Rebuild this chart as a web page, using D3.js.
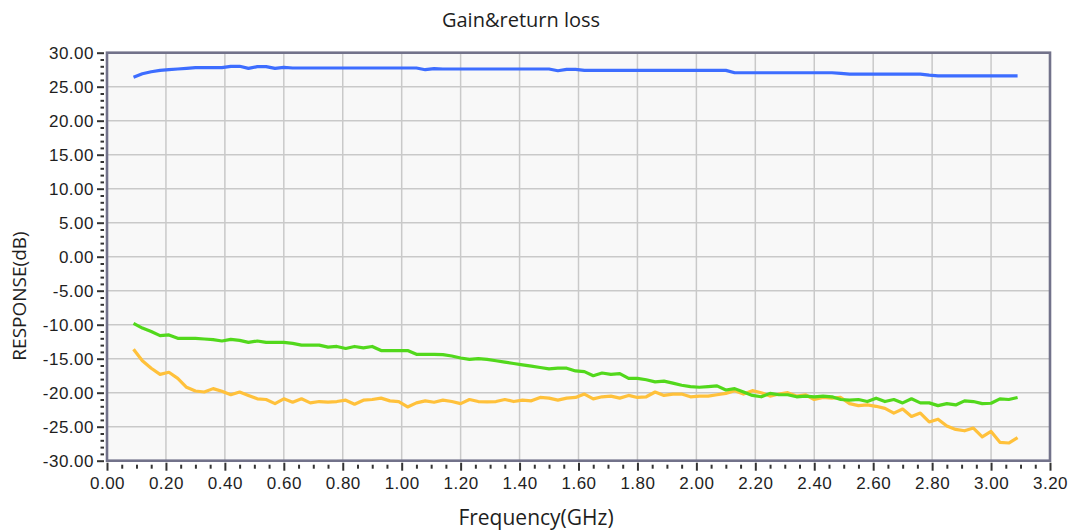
<!DOCTYPE html>
<html>
<head>
<meta charset="utf-8">
<script src="https://cdn.jsdelivr.net/npm/d3@7"></script>
<style>
  html, body { margin: 0; padding: 0; background: #fff; }
  svg { display: block; font-family: 'Open Sans', sans-serif; }
  .tick-label { font-size: 17px; fill: #1e1e1e; letter-spacing: 0.5px; }
  .axis-title { font-size: 19px; fill: #1e1e1e; }
  .x-title { font-size: 21px; }
  .title { font-size: 20px; fill: #1e1e1e; }
</style>
</head>
<body>
<svg id="chart" width="1073" height="531"></svg>
<script>
const freq = [
  0.09, 0.12, 0.15, 0.18, 0.21, 0.24, 0.27, 0.30, 0.33, 0.36,
  0.39, 0.42, 0.45, 0.48, 0.51, 0.54, 0.57, 0.60, 0.63, 0.66,
  0.69, 0.72, 0.75, 0.78, 0.81, 0.84, 0.87, 0.90, 0.93, 0.96,
  0.99, 1.02, 1.05, 1.08, 1.11, 1.14, 1.17, 1.20, 1.23, 1.26,
  1.29, 1.32, 1.35, 1.38, 1.41, 1.44, 1.47, 1.50, 1.53, 1.56,
  1.59, 1.62, 1.65, 1.68, 1.71, 1.74, 1.77, 1.80, 1.83, 1.86,
  1.89, 1.92, 1.95, 1.98, 2.01, 2.04, 2.07, 2.10, 2.13, 2.16,
  2.19, 2.22, 2.25, 2.28, 2.31, 2.34, 2.37, 2.40, 2.43, 2.46,
  2.49, 2.52, 2.55, 2.58, 2.61, 2.64, 2.67, 2.70, 2.73, 2.76,
  2.79, 2.82, 2.85, 2.88, 2.91, 2.94, 2.97, 3.00, 3.03, 3.06,
  3.09
]

// S21 gain
const gain = [
  26.4, 26.9, 27.2, 27.4, 27.5, 27.6, 27.7, 27.8, 27.8, 27.8,
  27.8, 28.0, 28.0, 27.7, 27.95, 27.95, 27.7, 27.85, 27.75, 27.75,
  27.75, 27.75, 27.75, 27.75, 27.75, 27.75, 27.75, 27.75, 27.75, 27.75,
  27.75, 27.75, 27.75, 27.5, 27.65, 27.6, 27.6, 27.6, 27.6, 27.6,
  27.6, 27.6, 27.6, 27.6, 27.6, 27.6, 27.6, 27.6, 27.35, 27.55,
  27.55, 27.4, 27.4, 27.4, 27.4, 27.4, 27.4, 27.4, 27.4, 27.4,
  27.4, 27.4, 27.4, 27.4, 27.4, 27.4, 27.4, 27.4, 27.05, 27.05,
  27.05, 27.05, 27.05, 27.05, 27.05, 27.05, 27.05, 27.05, 27.05, 27.05,
  26.95, 26.85, 26.85, 26.85, 26.85, 26.85, 26.85, 26.85, 26.85, 26.85,
  26.7, 26.6, 26.6, 26.6, 26.6, 26.6, 26.6, 26.6, 26.6, 26.6,
  26.6
]

// input return loss
const s11 = [
  -9.8, -10.5, -11.0, -11.6, -11.5, -12.0, -12.0, -12.0, -12.1, -12.2,
  -12.4, -12.15, -12.3, -12.6, -12.4, -12.6, -12.6, -12.6, -12.75, -13.0,
  -13.0, -13.0, -13.3, -13.2, -13.5, -13.2, -13.4, -13.2, -13.8, -13.8,
  -13.8, -13.8, -14.35, -14.35, -14.35, -14.4, -14.6, -14.9, -15.1, -15.0,
  -15.1, -15.3, -15.5, -15.7, -15.9, -16.1, -16.3, -16.5, -16.4, -16.4,
  -16.8, -16.9, -17.5, -17.1, -17.3, -17.2, -17.9, -17.9, -18.1, -18.4,
  -18.3, -18.6, -18.9, -19.1, -19.2, -19.1, -19.0, -19.6, -19.4, -19.9,
  -20.4, -20.6, -20.1, -20.3, -20.3, -20.6, -20.5, -20.6, -20.5, -20.6,
  -21.0, -21.1, -21.0, -21.3, -20.8, -21.3, -21.0, -21.5, -20.9, -21.5,
  -21.5, -21.9, -21.6, -21.8, -21.2, -21.3, -21.6, -21.55, -20.9, -21.0,
  -20.7
]

// output return loss
const s22 = [
  -13.6, -15.3, -16.4, -17.3, -17.0, -17.9, -19.2, -19.75, -19.9, -19.4,
  -19.8, -20.3, -19.9, -20.4, -20.9, -21.0, -21.6, -20.9, -21.4, -20.9,
  -21.5, -21.3, -21.4, -21.3, -21.1, -21.7, -21.1, -21.0, -20.8, -21.2,
  -21.3, -22.1, -21.5, -21.2, -21.4, -21.1, -21.3, -21.6, -21.0, -21.3,
  -21.35, -21.3, -21.0, -21.3, -21.1, -21.2, -20.7, -20.8, -21.1, -20.8,
  -20.7, -20.2, -20.9, -20.6, -20.5, -20.8, -20.4, -20.7, -20.6, -19.9,
  -20.4, -20.2, -20.2, -20.6, -20.5, -20.5, -20.3, -20.1, -19.7, -20.2,
  -19.7, -20.0, -20.5, -20.2, -20.0, -20.5, -20.3, -21.0, -20.7, -20.8,
  -20.7, -21.6, -21.9, -21.8, -22.0, -22.3, -23.0, -22.4, -23.5, -23.0,
  -24.3, -23.9, -24.9, -25.4, -25.6, -25.2, -26.5, -25.7, -27.3, -27.4,
  -26.6
]

const xTicks = [0, 0.2, 0.4, 0.6, 0.8, 1.0, 1.2, 1.4, 1.6, 1.8, 2.0, 2.2, 2.4, 2.6, 2.8, 3.0, 3.2]
const yTicks = [-30, -25, -20, -15, -10, -5, 0, 5, 10, 15, 20, 25, 30]

const series = [
  { name: 'S22', values: s22, color: '#ffc13b' },
  { name: 'S11', values: s11, color: '#52d81c' },
  { name: 'S21', values: gain, color: '#3d6dff' }
]

window.addEventListener('DOMContentLoaded', draw)

function fmt (d) {
  return d.toFixed(2)
}

function draw () {
  const svg = d3.select('#chart')
  const left = 107
  const right = 1050
  const top = 52.7
  const bottom = 460.7

  const x = d3.scaleLinear().domain([0, 3.2]).range([left, right])
  const y = d3.scaleLinear().domain([-30, 30]).range([bottom, top])

  svg.append('rect')
    .attr('width', 1073).attr('height', 531)
    .attr('fill', '#fff')

  svg.append('rect')
    .attr('x', left).attr('y', top)
    .attr('width', right - left).attr('height', bottom - top)
    .attr('fill', '#f8f8f8')

  // grid
  const grid = svg.append('g').attr('stroke', '#c9c9c9').attr('stroke-width', 1.5)
  grid.selectAll('.vg')
    .data(xTicks.slice(1, -1))
    .enter().append('line')
    .attr('x1', d => x(d)).attr('x2', d => x(d))
    .attr('y1', top).attr('y2', bottom)
  grid.selectAll('.hg')
    .data(yTicks.slice(1, -1))
    .enter().append('line')
    .attr('x1', left).attr('x2', right)
    .attr('y1', d => y(d)).attr('y2', d => y(d))

  // series
  const line = d3.line()
    .x((d, i) => x(freq[i]))
    .y(d => y(d))

  svg.append('g')
    .selectAll('path')
    .data(series)
    .enter().append('path')
    .attr('d', d => line(d.values))
    .attr('fill', 'none')
    .attr('stroke', d => d.color)
    .attr('stroke-width', 3.2)
    .attr('stroke-linejoin', 'round')

  svg.append('rect')
    .attr('x', left).attr('y', top)
    .attr('width', right - left).attr('height', bottom - top)
    .attr('fill', 'none')
    .attr('stroke', '#72728a')
    .attr('stroke-width', 2.6)

  // y axis
  const yAxis = d3.axisLeft(y)
    .tickValues(yTicks)
    .tickFormat(fmt)
    .tickSize(7)
    .tickPadding(3)
  const gy = svg.append('g')
    .attr('transform', `translate(${left - 3},0)`)
    .call(yAxis)
  gy.select('.domain').remove()
  gy.selectAll('.tick line').attr('stroke', '#333').attr('stroke-width', 2)
  gy.selectAll('.tick text').attr('class', 'tick-label').attr('font-family', null).attr('font-size', null)

  const yMinor = d3.axisLeft(y)
    .tickValues(d3.range(-30, 31, 1).filter(d => d % 5 !== 0))
    .tickSize(3.5)
    .tickFormat('')
  const gym = svg.append('g')
    .attr('transform', `translate(${left - 3},0)`)
    .call(yMinor)
  gym.select('.domain').remove()
  gym.selectAll('.tick line').attr('stroke', '#333').attr('stroke-width', 2)

  // x axis
  const xAxis = d3.axisBottom(x)
    .tickValues(xTicks)
    .tickFormat(fmt)
    .tickSize(8)
    .tickPadding(6)
  const gx = svg.append('g')
    .attr('transform', `translate(0,${bottom + 2})`)
    .call(xAxis)
  gx.select('.domain').remove()
  gx.selectAll('.tick line').attr('stroke', '#333').attr('stroke-width', 2)
  gx.selectAll('.tick text').attr('class', 'tick-label').attr('font-family', null).attr('font-size', null)

  const xMinor = d3.axisBottom(x)
    .tickValues(d3.range(0, 65).map(i => i * 0.05).filter((d, i) => i % 4 !== 0))
    .tickSize(4)
    .tickFormat('')
  const gxm = svg.append('g')
    .attr('transform', `translate(0,${bottom + 4})`)
    .call(xMinor)
  gxm.select('.domain').remove()
  gxm.selectAll('.tick line').attr('stroke', '#333').attr('stroke-width', 2)

  // titles
  svg.append('text')
    .attr('class', 'title')
    .attr('x', 521).attr('y', 27)
    .attr('text-anchor', 'middle')
    .text('Gain&return loss')

  svg.append('text')
    .attr('class', 'axis-title x-title')
    .attr('x', 536).attr('y', 525)
    .attr('text-anchor', 'middle')
    .text('Frequency(GHz)')

  svg.append('text')
    .attr('class', 'axis-title')
    .attr('transform', 'translate(26,296) rotate(-90)')
    .attr('text-anchor', 'middle')
    .text('RESPONSE(dB)')
}
</script>
</body>
</html>
